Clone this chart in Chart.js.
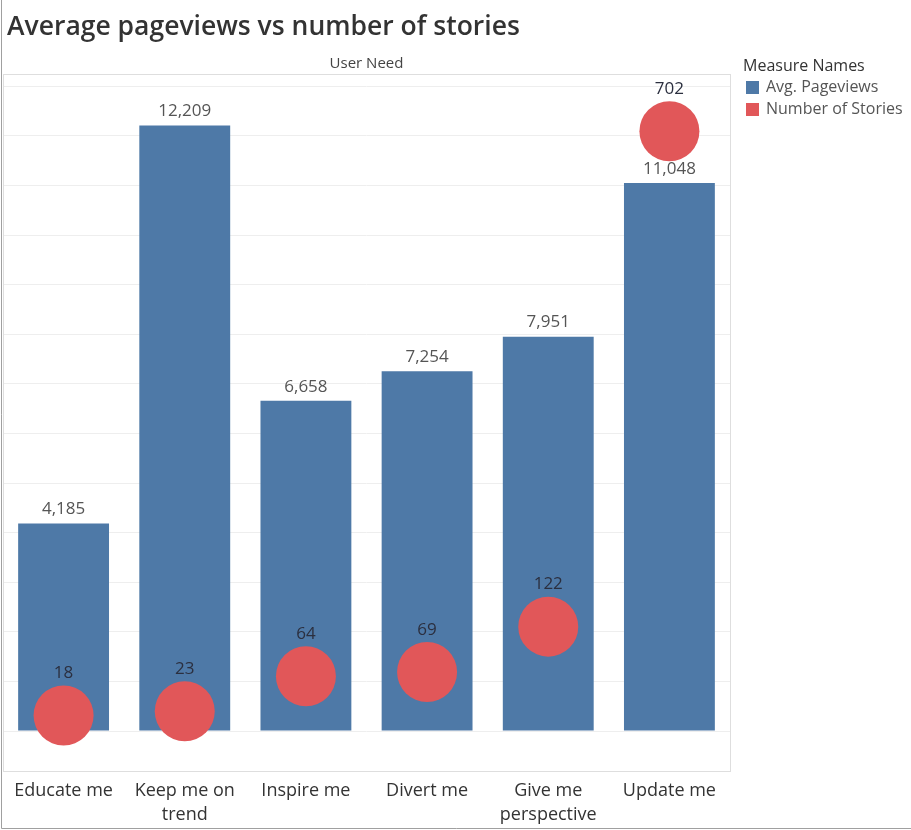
<!DOCTYPE html>
<html>
<head>
<meta charset="utf-8">
<script src="https://cdn.jsdelivr.net/npm/chart.js@4"></script>
<style>
  html, body { margin: 0; padding: 0; background: #fff; }
  canvas { display: block; }
</style>
</head>
<body>
<canvas id="chart" width="911" height="830"></canvas>
<script>
// Average pageviews vs number of stories, by user need

const categories = [
    ['Educate me'],
    ['Keep me on', 'trend'],
    ['Inspire me'],
    ['Divert me'],
    ['Give me', 'perspective'],
    ['Update me']
];
const avgPageviews = [4185, 12209, 6658, 7254, 7951, 11048];
const numberOfStories = [18, 23, 64, 69, 122, 702];
const gridValues = [0, 1000, 2000, 3000, 4000, 5000, 6000, 7000, 8000, 9000, 10000, 11000, 12000, 13000];

const seriesNames = ['Avg. Pageviews', 'Number of Stories'];
const seriesColors = ['#4e79a7', '#e15759'];

const FONT = '"Open Sans", "Noto Sans", sans-serif';

// Draw value labels, panel border, title, header and legend
const decorPlugin = {
    id: 'decor',
    afterDatasetsDraw(chart) {
        const ctx = chart.ctx;
        ctx.save();
        ctx.textAlign = 'center';
        ctx.textBaseline = 'middle';

        const barMeta = chart.getDatasetMeta(0);
        ctx.font = '17px ' + FONT;
        ctx.fillStyle = '#555';
        barMeta.data.forEach((bar, i) => {
            ctx.fillText(avgPageviews[i].toLocaleString('en-US'), bar.x, bar.y - 14);
        });

        const dotMeta = chart.getDatasetMeta(1);
        ctx.fillStyle = '#2b2f3f';
        dotMeta.data.forEach((pt, i) => {
            ctx.fillText(String(numberOfStories[i]), pt.x, pt.y - 42);
        });
        ctx.restore();
    },
    afterDraw(chart) {
        const ctx = chart.ctx;
        const area = chart.chartArea;
        ctx.save();

        // panel border
        ctx.strokeStyle = '#dedede';
        ctx.lineWidth = 1;
        ctx.strokeRect(area.left + 0.5, area.top + 0.5, area.right - area.left, area.bottom - area.top);

        // title
        ctx.fillStyle = '#333';
        ctx.font = '600 26.5px ' + FONT;
        ctx.textAlign = 'left';
        ctx.textBaseline = 'middle';
        ctx.fillText('Average pageviews vs number of stories', 7, 27);

        // column header
        ctx.font = '15px ' + FONT;
        ctx.fillStyle = '#444';
        ctx.textAlign = 'center';
        ctx.fillText('User Need', (area.left + area.right) / 2, 64);

        // legend
        ctx.textAlign = 'left';
        ctx.font = '16px ' + FONT;
        ctx.fillStyle = '#333';
        ctx.fillText('Measure Names', 743, 66);
        seriesNames.forEach((name, i) => {
            const y = 87 + i * 22;
            ctx.fillStyle = seriesColors[i];
            ctx.fillRect(746, y - 6, 13, 13);
            ctx.fillStyle = '#555';
            ctx.fillText(name, 766, y);
        });

        // outer frame (left and bottom edges)
        ctx.strokeStyle = '#a0a0a0';
        ctx.beginPath();
        ctx.moveTo(1.5, 0);
        ctx.lineTo(1.5, chart.height - 1.5);
        ctx.lineTo(chart.width, chart.height - 1.5);
        ctx.stroke();
        ctx.restore();
    }
};

function initializeChart() {
    const ctx = document.getElementById('chart').getContext('2d');

    return new Chart(ctx, {
        type: 'bar',
        data: {
            labels: categories,
            datasets: [
                {
                    label: seriesNames[0],
                    data: avgPageviews,
                    backgroundColor: seriesColors[0],
                    yAxisID: 'y',
                    categoryPercentage: 1,
                    barPercentage: 0.75,
                    order: 2
                },
                {
                    type: 'line',
                    label: seriesNames[1],
                    data: numberOfStories,
                    yAxisID: 'y2',
                    showLine: false,
                    pointRadius: 30,
                    pointHoverRadius: 30,
                    pointBorderWidth: 0,
                    pointBackgroundColor: seriesColors[1],
                    borderColor: seriesColors[1],
                    order: 1
                }
            ]
        },
        options: {
            responsive: false,
            animation: false,
            layout: { autoPadding: false, padding: { left: 3, right: 181, top: 74, bottom: 0 } },
            plugins: {
                legend: { display: false },
                tooltip: { enabled: false }
            },
            scales: {
                x: {
                    grid: { display: false },
                    border: { display: false },
                    ticks: {
                        color: '#333',
                        font: { family: FONT, size: 18, lineHeight: 1.33 },
                        padding: 0,
                        maxRotation: 0,
                        autoSkip: false
                    },
                    afterFit(scale) { scale.height = 59; }
                },
                y: {
                    min: -806,
                    max: 13246,
                    ticks: { display: false },
                    afterBuildTicks(scale) {
                        scale.ticks = gridValues.map(v => ({ value: v }));
                    },
                    border: { display: false },
                    grid: { drawTicks: false, color: '#eeeeee', lineWidth: 1 },
                    afterFit(scale) { scale.width = 0; }
                },
                y2: {
                    display: false,
                    min: -47,
                    max: 769
                }
            }
        },
        plugins: [decorPlugin]
    });
}

document.addEventListener('DOMContentLoaded', initializeChart);
</script>
</body>
</html>
